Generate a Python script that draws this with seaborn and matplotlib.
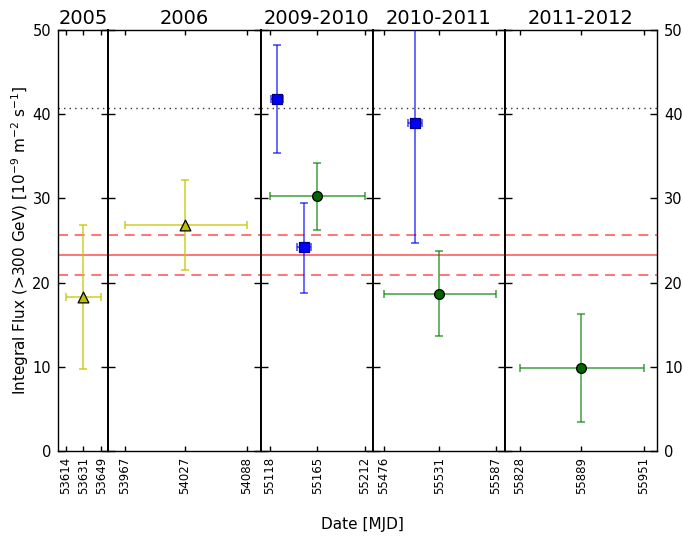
import matplotlib
matplotlib.use("Agg")
import matplotlib.pyplot as plt
import seaborn as sns
import pandas as pd

# Observing seasons: titles, axis ranges (MJD) and tick positions
seasons = ["2005", "2006", "2009-2010", "2010-2011", "2011-2012"]
season_xlim = [(53606, 53656), (53951, 54102), (55109, 55220), (55465, 55596), (55813, 55964)]
season_ticks = [[53614, 53631, 53649], [53967, 54027, 54088], [55118, 55165, 55212],
                [55476, 55531, 55587], [55828, 55889, 55951]]

# Flux points (integral flux above 300 GeV, 1e-9 m^-2 s^-1)
season_idx = [0, 1, 2, 2, 2, 3, 3, 4]
mjd = [53631, 54027, 55125, 55152, 55165, 55507, 55531, 55889]
mjd_err_lo = [17, 60, 6, 7, 47, 7, 55, 61]
mjd_err_hi = [18, 61, 6, 7, 47, 7, 56, 62]
flux = [18.3, 26.8, 41.8, 24.2, 30.3, 38.9, 18.7, 9.9]
flux_err_lo = [8.6, 5.3, 6.4, 5.4, 4.0, 14.2, 5.1, 6.4]
flux_err_hi = [8.5, 5.4, 6.4, 5.3, 3.9, 14.2, 5.1, 6.4]
sample = ["a", "a", "b", "b", "c", "b", "c", "c"]

# Reference levels
mean_flux = 23.3
mean_band = (20.9, 25.7)
high_level = 40.7

df = pd.DataFrame(dict(season=season_idx, mjd=mjd, flux=flux, sample=sample,
                       xlo=mjd_err_lo, xhi=mjd_err_hi, ylo=flux_err_lo, yhi=flux_err_hi))

styles = {
    "a": dict(marker="^", face="#bfbf00", edge="black", bar=(0.78, 0.78, 0.0, 0.85), s=60),
    "b": dict(marker="s", face="#0000ff", edge="#000080", bar=(0.0, 0.0, 1.0, 0.75), s=55),
    "c": dict(marker="o", face="#006400", edge="black", bar=(0.0, 0.5, 0.0, 0.75), s=50),
}

sns.set_style("white")
plt.rcParams["font.family"] = ["DejaVu Sans"]
plt.rcParams.update({"text.color": "black", "axes.labelcolor": "black",
                     "xtick.color": "black", "ytick.color": "black"})

widths = [b - a for a, b in season_xlim]
fig, axes = plt.subplots(1, 5, figsize=(6.83, 5.4), dpi=100, sharey=True,
                         gridspec_kw=dict(width_ratios=widths, wspace=0))
fig.subplots_adjust(left=58 / 683, right=657 / 683, top=1 - 30 / 540, bottom=1 - 451 / 540)

for i, ax in enumerate(axes):
    sub = df[df.season == i]
    for _, r in sub.iterrows():
        st = styles[r["sample"]]
        ax.errorbar(r.mjd, r.flux, xerr=[[r.xlo], [r.xhi]], yerr=[[r.ylo], [r.yhi]],
                    fmt="none", ecolor=st["bar"], elinewidth=1.1, capsize=3, capthick=1.1,
                    zorder=3)
    for key, grp in sub.groupby("sample"):
        st = styles[key]
        sns.scatterplot(data=grp, x="mjd", y="flux", ax=ax, marker=st["marker"], s=st["s"],
                        color=st["face"], edgecolor=st["edge"], linewidth=0.9, zorder=4,
                        legend=False)
    ax.axhline(mean_flux, color=(1, 0.2, 0.2, 0.8), lw=1.2, zorder=2)
    for lvl in mean_band:
        ax.axhline(lvl, color=(1, 0.2, 0.2, 0.8), lw=1.2, ls=(0, (6, 4)), zorder=2)
    ax.axhline(high_level, color="#333333", lw=1.0, ls=(0, (1, 3)), zorder=2)

    ax.set_xlim(*season_xlim[i])
    ax.set_ylim(0, 50)
    ax.set_xticks(season_ticks[i])
    ax.set_xticklabels([str(t) for t in season_ticks[i]], rotation=90, fontsize=8.5)
    ax.set_yticks([0, 10, 20, 30, 40, 50])
    ax.set_xlabel("")
    ax.set_ylabel("")
    ax.set_title(seasons[i], fontsize=14, pad=4)
    ax.tick_params(axis="x", direction="in", length=3.5, width=1, top=True, bottom=True, pad=4)
    ax.tick_params(axis="y", direction="in", length=5, width=1, left=True, right=True,
                   labelsize=10.5, labelleft=(i == 0), labelright=(i == 4), pad=5)
    for name, sp in ax.spines.items():
        sp.set_color("black")
        sp.set_linewidth(1.0)
    if i > 0:
        ax.spines["left"].set_linewidth(1.4)
    if i < 4:
        ax.spines["right"].set_linewidth(1.4)

fig.text(20 / 683, 1 - 240 / 540,
         "Integral Flux (>300 GeV) [$10^{-9}$ m$^{-2}$ s$^{-1}$]",
         rotation=90, ha="center", va="center", fontsize=11)
fig.text(362 / 683, 1 - 524 / 540, "Date [MJD]", ha="center", va="center", fontsize=11)

fig.savefig("out.png", dpi=100)
